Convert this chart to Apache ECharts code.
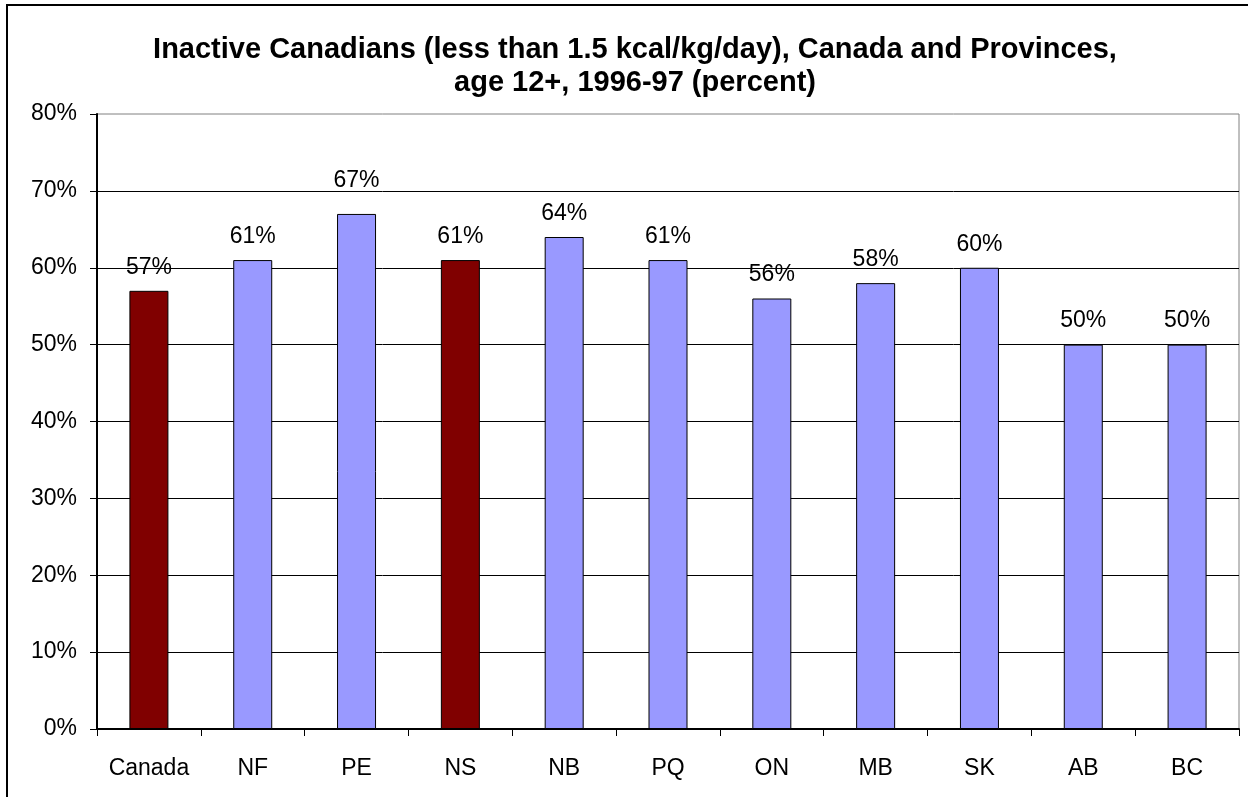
<!DOCTYPE html>
<html>
<head>
<meta charset="utf-8">
<script src="https://cdn.jsdelivr.net/npm/echarts@6/dist/echarts.min.js"></script>
<style>
  html, body { margin: 0; padding: 0; background: #fff; }
  #chart { width: 1248px; height: 797px; }
</style>
</head>
<body>
<div id="chart"></div>
<script>
// data
var categories = ['Canada', 'NF', 'PE', 'NS', 'NB', 'PQ', 'ON', 'MB', 'SK', 'AB', 'BC'];
var inactive = [57, 61, 67, 61, 64, 61, 56, 58, 60, 50, 50];
var highlighted = ['Canada', 'NS'];

var myChart = echarts.init(document.getElementById('chart'));
var font = '"Liberation Sans", Arial, sans-serif';

var option = {
    animation: false,
    backgroundColor: '#fff',
    title: {
        text: 'Inactive Canadians (less than 1.5 kcal/kg/day), Canada and Provinces,\nage 12+, 1996-97 (percent)',
        left: 630,
        top: 28,
        textAlign: 'center',
        textStyle: {
            fontFamily: font,
            fontSize: 29,
            fontWeight: 'bold',
            color: '#000',
            lineHeight: 33
        }
    },
    graphic: [{
        type: 'polyline',
        shape: { points: [[7, 797], [7, 5], [1248, 5]] },
        style: { stroke: '#000', lineWidth: 2, fill: null },
        silent: true
    }],
    grid: {
        left: 97,
        right: 9,
        top: 114,
        bottom: 68,
        show: true,
        borderColor: '#808080',
        borderWidth: 1
    },
    xAxis: {
        type: 'category',
        data: categories,
        axisLine: { lineStyle: { color: '#000', width: 2 } },
        axisTick: { show: true, interval: 0, length: 7, lineStyle: { color: '#000' } },
        axisLabel: {
            interval: 0,
            margin: 28,
            fontFamily: font,
            fontSize: 23,
            color: '#000'
        }
    },
    yAxis: {
        type: 'value',
        min: 0,
        max: 80,
        interval: 10,
        axisLine: { show: true, lineStyle: { color: '#000', width: 2 } },
        axisTick: { show: true, length: 7, lineStyle: { color: '#000' } },
        axisLabel: {
            formatter: '{value}%',
            margin: 20,
            fontFamily: font,
            fontSize: 23,
            color: '#000'
        },
        splitLine: {
            show: true,
            showMaxLine: false,
            lineStyle: { color: '#000', width: 1 }
        }
    },
    series: [{
        type: 'bar',
        barWidth: 39,
        data: inactive.map(function (v, i) {
            var hot = highlighted.indexOf(categories[i]) >= 0;
            var item = {
                value: v,
                itemStyle: {
                    color: hot ? '#800000' : '#9999ff',
                    borderColor: '#000',
                    borderWidth: 1
                }
            };
            // the PE label sits a little higher in the original
            if (categories[i] === 'PE') {
                item.label = { offset: [0, -10] };
            }
            return item;
        }),
        label: {
            show: true,
            position: 'top',
            distance: 12,
            formatter: '{c}%',
            fontFamily: font,
            fontSize: 23,
            color: '#000'
        }
    }]
};
myChart.setOption(option);
</script>
</body>
</html>
